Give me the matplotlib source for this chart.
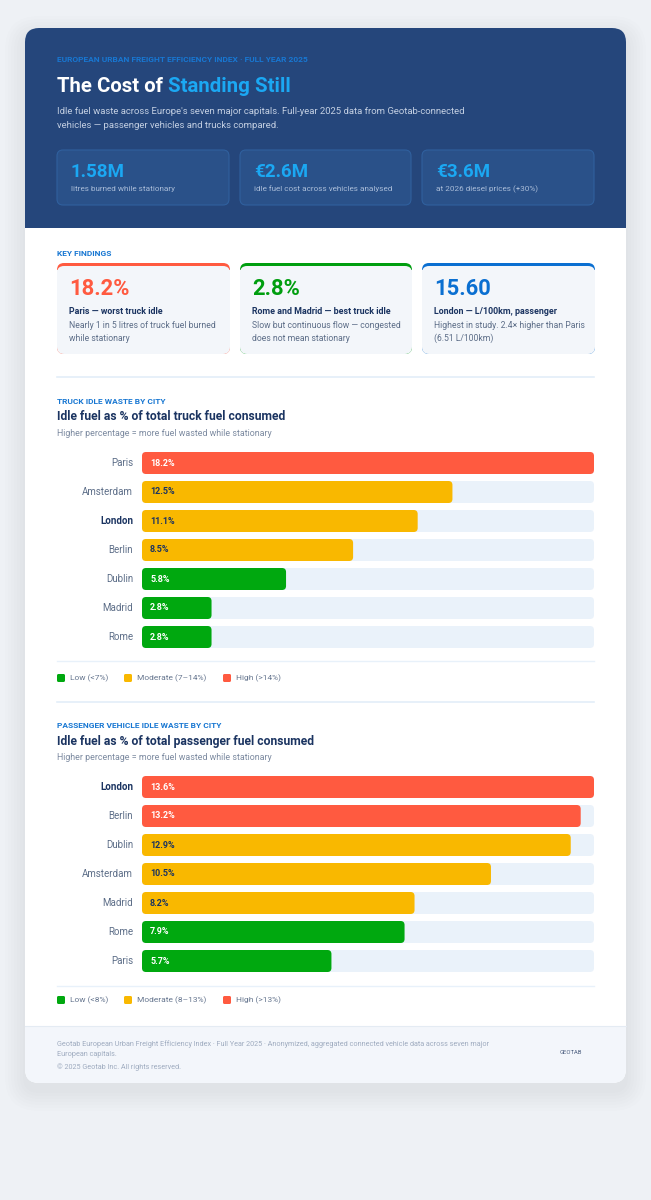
import matplotlib.pyplot as plt
from matplotlib.patches import FancyBboxPatch, Rectangle
import numpy as np

plt.rcParams['font.family'] = ['Roboto', 'DejaVu Sans']

# ---- data ----
truck_cities = ['Paris', 'Amsterdam', 'London', 'Berlin', 'Dublin', 'Madrid', 'Rome']
truck_idle = [18.2, 12.5, 11.1, 8.5, 5.8, 2.8, 2.8]
truck_bands = [7, 14]
truck_legend = ['Low (<7%)', 'Moderate (7\u201314%)', 'High (>14%)']

pass_cities = ['London', 'Berlin', 'Dublin', 'Amsterdam', 'Madrid', 'Rome', 'Paris']
pass_idle = [13.6, 13.2, 12.9, 10.5, 8.2, 7.9, 5.7]
pass_bands = [8, 13]
pass_legend = ['Low (<8%)', 'Moderate (8\u201313%)', 'High (>13%)']

stat_values = ['1.58M', '\u20ac2.6M', '\u20ac3.6M']
stat_labels = ['litres burned while stationary', 'idle fuel cost across vehicles analysed',
               'at 2026 diesel prices (+30%)']

find_values = ['18.2%', '2.8%', '15.60']
find_titles = ['Paris \u2014 worst truck idle', 'Rome and Madrid \u2014 best truck idle',
               'London \u2014 L/100km, passenger']
find_desc = ['Nearly 1 in 5 litres of truck fuel burned\nwhile stationary',
             'Slow but continuous flow \u2014 congested\ndoes not mean stationary',
             'Highest in study. 2.4\u00d7 higher than Paris\n(6.51 L/100km)']

GREEN, AMBER, RED = '#00a80f', '#f9b800', '#ff5a40'
NAVY = '#1b3461'
GREY = '#5d6e88'
EYEBROW = '#1877d2'
TRACK = '#eaf2fa'

W, H = 651, 1200
fig = plt.figure(figsize=(W / 100, H / 100), dpi=100)
fig.patch.set_facecolor('#eef1f5')
bg = fig.add_axes([0, 0, 1, 1])
bg.set_xlim(0, W)
bg.set_ylim(H, 0)
bg.axis('off')


def rbox(x0, y0, x1, y1, r, fc, ec='none', lw=0, z=1, alpha=1):
    p = FancyBboxPatch((x0 + r, y0 + r), x1 - x0 - 2 * r, y1 - y0 - 2 * r,
                       boxstyle='round,pad=%g' % r, fc=fc, ec=ec, lw=lw, zorder=z, alpha=alpha)
    bg.add_patch(p)


# card with soft shadow
for g in range(2, 22, 3):
    rbox(25 - g, 28 - g + 8, 626 + g, 1083 + g + 8, 14 + g, '#1b2c4a', z=0, alpha=0.009)
rbox(25, 28, 626, 1083, 14, 'white', z=1)

# header
rbox(25, 28, 626, 228, 14, '#25467b', z=2)
bg.add_patch(Rectangle((25, 200), 601, 28, fc='#25467b', ec='none', zorder=2))
# footer
rbox(25, 1026, 626, 1083, 14, '#f3f6fb', z=2)
bg.add_patch(Rectangle((25, 1026), 601, 30, fc='#f3f6fb', ec='none', zorder=2))
bg.plot([25, 626], [1026, 1026], color='#e4ebf3', lw=0.8, zorder=3)

bg.text(57, 60, 'EUROPEAN URBAN FREIGHT EFFICIENCY INDEX \u00b7 FULL YEAR 2025', fontsize=6.0,
        fontweight='bold', color=EYEBROW, va='center', zorder=5)
t1 = bg.text(57, 86, 'The Cost of ', fontsize=14.7, fontweight='bold', color='white',
             va='center', zorder=5)
fig.canvas.draw()
bb = t1.get_window_extent()
bg.text(57 + bb.width, 86, 'Standing Still', fontsize=14.7, fontweight='bold', color='#1ba8f3',
        va='center', zorder=5)
bg.text(57, 111, "Idle fuel waste across Europe's seven major capitals. Full-year 2025 data from "
        "Geotab-connected", fontsize=6.8, color='#c3cfe2', va='center', zorder=5)
bg.text(57, 126, 'vehicles \u2014 passenger vehicles and trucks compared.', fontsize=6.8,
        color='#c3cfe2', va='center', zorder=5)

boxes = [(57, 229), (240, 411), (422, 594)]
for (x0, x1), v, lab in zip(boxes, stat_values, stat_labels):
    rbox(x0, 150, x1, 205, 6, '#2a5189', ec='#30609e', lw=0.8, z=3)
    bg.text(x0 + 14, 172, v, fontsize=13.5, fontweight='bold', color='#1ba8f3', va='center', zorder=5)
    bg.text(x0 + 14, 189, lab, fontsize=5.9, color='#a9bcd8', va='center', zorder=5)

# key findings
bg.text(57, 254, 'KEY FINDINGS', fontsize=6.0, fontweight='bold', color=EYEBROW, va='center')
find_colors = [RED, '#009e0f', '#0a6fd1']
for (x0, x1), v, tt, d, c in zip(boxes, find_values, find_titles, find_desc, find_colors):
    rbox(x0, 263, x1 + 1, 354, 7, c, z=2)
    rbox(x0, 266, x1 + 1, 354, 7, '#f3f6fa', z=3)
    bg.add_patch(Rectangle((x0, 270), x1 + 1 - x0, 20, fc='#f3f6fa', ec='none', zorder=3))
    bg.text(x0 + 12, 289, v, fontsize=15.8, fontweight='bold', color=c, va='center', zorder=5)
    bg.text(x0 + 12, 311, tt, fontsize=6.4, fontweight='bold', color=NAVY, va='center', zorder=5)
    bg.text(x0 + 12, 332, d, fontsize=6.2, color=GREY, va='center', linespacing=1.55, zorder=5)

for yy in [377, 702]:
    bg.plot([57, 594], [yy, yy], color='#e3eef8', lw=1.2, zorder=3)
for yy in [661, 986]:
    bg.plot([57, 594], [yy, yy], color='#e8f1fa', lw=1.0, zorder=3)

# footer text
bg.text(57, 1044, 'Geotab European Urban Freight Efficiency Index \u00b7 Full Year 2025 \u00b7 '
        'Anonymized, aggregated connected vehicle data across seven major', fontsize=5.2,
        color='#9eabbf', va='center', zorder=5)
bg.text(57, 1055, 'European capitals.', fontsize=5.2, color='#9eabbf', va='center', zorder=5)
bg.text(57, 1067, '\u00a9 2025 Geotab Inc. All rights reserved.', fontsize=5.2, color='#9eabbf',
        va='center', zorder=5)
bg.text(582, 1053, 'GEOTAB', fontsize=4.2, color='#4d5f80', va='center', ha='right', zorder=5)


def band_color(v, bands):
    if v < bands[0]:
        return GREEN
    if v <= bands[1]:
        return AMBER
    return RED


def section(y_eyebrow, eyebrow, title, cities, vals, bands, legend, row0, y_leg, bold_city):
    bg.text(57, y_eyebrow, eyebrow, fontsize=6.0, fontweight='bold', color=EYEBROW, va='center')
    bg.text(57, y_eyebrow + 16, title, fontsize=8.7, fontweight='bold', color=NAVY, va='center')
    bg.text(57, y_eyebrow + 32, 'Higher percentage = more fuel wasted while stationary',
            fontsize=6.4, color='#7c8aa0', va='center')

    n = len(cities)
    step = 29
    left, right = 142, 594
    top = row0 - step / 2
    ax = fig.add_axes([left / W, 1 - (top + n * step) / H, (right - left) / W, n * step / H])
    vmax = max(vals)
    ax.set_xlim(0, vmax)
    ax.set_ylim(n - 0.5, -0.5)
    ax.axis('off')
    ax.set_zorder(5)
    pxx = (right - left) / vmax
    pxy = step
    r = 4 / pxx
    asp = pxx / pxy
    bh = 22 / step
    for i, (c, v) in enumerate(zip(cities, vals)):
        for x1, fc in [(vmax, TRACK), (v, band_color(v, bands))]:
            p = FancyBboxPatch((r, i - bh / 2 + r * asp), x1 - 2 * r, bh - 2 * r * asp,
                               boxstyle='round,pad=%g' % r, mutation_aspect=asp,
                               fc=fc, ec='none', clip_on=False)
            ax.add_patch(p)
        col = band_color(v, bands)
        tc = NAVY if col == AMBER else 'white'
        ax.annotate('%.1f%%' % v, xy=(0, i), xytext=(5.8, 0), textcoords='offset points',
                    fontsize=6.5, fontweight='bold', color=tc, va='center')
        ax.annotate(c, xy=(0, i), xytext=(-6.5, 0), textcoords='offset points', ha='right',
                    va='center', fontsize=7.0,
                    fontweight='bold' if c == bold_city else 'normal',
                    color=NAVY if c == bold_city else GREY)

    xs = [(57, 70), (124, 137), (223, 236)]
    for (sx, tx), lab, c in zip(xs, legend, [GREEN, AMBER, RED]):
        rbox(sx, y_leg - 4, sx + 8, y_leg + 4, 1.5, c, z=4)
        bg.text(tx, y_leg, lab, fontsize=6.0, color='#66768f', va='center', zorder=5)


section(401, 'TRUCK IDLE WASTE BY CITY', 'Idle fuel as % of total truck fuel consumed',
        truck_cities, truck_idle, truck_bands, truck_legend, 463, 678, 'London')
section(726, 'PASSENGER VEHICLE IDLE WASTE BY CITY',
        'Idle fuel as % of total passenger fuel consumed',
        pass_cities, pass_idle, pass_bands, pass_legend, 787, 1000, 'London')

fig.savefig('out.png', dpi=100, facecolor=fig.get_facecolor())
